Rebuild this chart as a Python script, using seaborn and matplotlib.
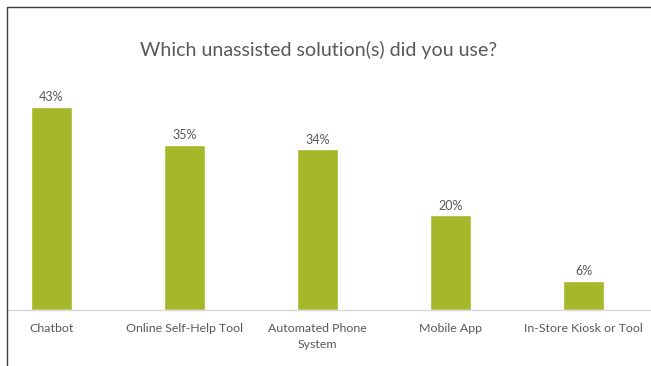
import matplotlib
matplotlib.use("Agg")
import matplotlib.pyplot as plt
from matplotlib.lines import Line2D
import seaborn as sns
import pandas as pd

categories = ["Chatbot", "Online Self-Help Tool", "Automated Phone\nSystem",
              "Mobile App", "In-Store Kiosk or Tool"]
shares = [43, 35, 34, 20, 6]
value_labels = ["43%", "35%", "34%", "20%", "6%"]

df = pd.DataFrame({"solution": categories, "share": shares})

sns.set_theme(style="white")
plt.rcParams["font.family"] = ["Lato", "DejaVu Sans"]

W, H = 651, 366
fig = plt.figure(figsize=(W / 100, H / 100), dpi=100)
ax_left, ax_right = 8, 651
ax_bottom, ax_top = 309.5, 80
ax = fig.add_axes([ax_left / W, 1 - ax_bottom / H,
                   (ax_right - ax_left) / W, (ax_bottom - ax_top) / H])

sns.barplot(data=df, x="solution", y="share", color="#A5B82A",
            saturation=1, width=0.31, ax=ax)

ax.set_xlim((ax_left - 51.5) / 133, (ax_right - 51.5) / 133)
ax.set_ylim(0, (ax_bottom - ax_top) / 4.71)

text_col = "#595959"
for i, (v, lab) in enumerate(zip(shares, value_labels)):
    ax.text(i, v + 0.8, lab, ha="center", va="bottom", fontsize=9, color=text_col)

ax.set_xlabel("")
ax.set_ylabel("")
ax.set_yticks([])
ax.tick_params(axis="x", length=0, pad=10, labelsize=8.9, labelcolor=text_col)
for t in ax.get_xticklabels():
    t.set_linespacing(1.55)
for s in ["top", "right", "left"]:
    ax.spines[s].set_visible(False)
ax.spines["bottom"].set_color("#D9D9D9")
ax.spines["bottom"].set_linewidth(1)

fig.text(319 / W, 1 - 50 / H, "Which unassisted solution(s) did you use?",
         ha="center", va="center", fontsize=14.1, color=text_col)

# outer frame on the left and top edges
fig.add_artist(Line2D([6.5 / W, 6.5 / W], [0, 1 - 6.5 / H],
                      transform=fig.transFigure, color="#404040", lw=1))
fig.add_artist(Line2D([6.5 / W, 1], [1 - 6.5 / H, 1 - 6.5 / H],
                      transform=fig.transFigure, color="#404040", lw=1))

fig.savefig("out.png", dpi=100)
